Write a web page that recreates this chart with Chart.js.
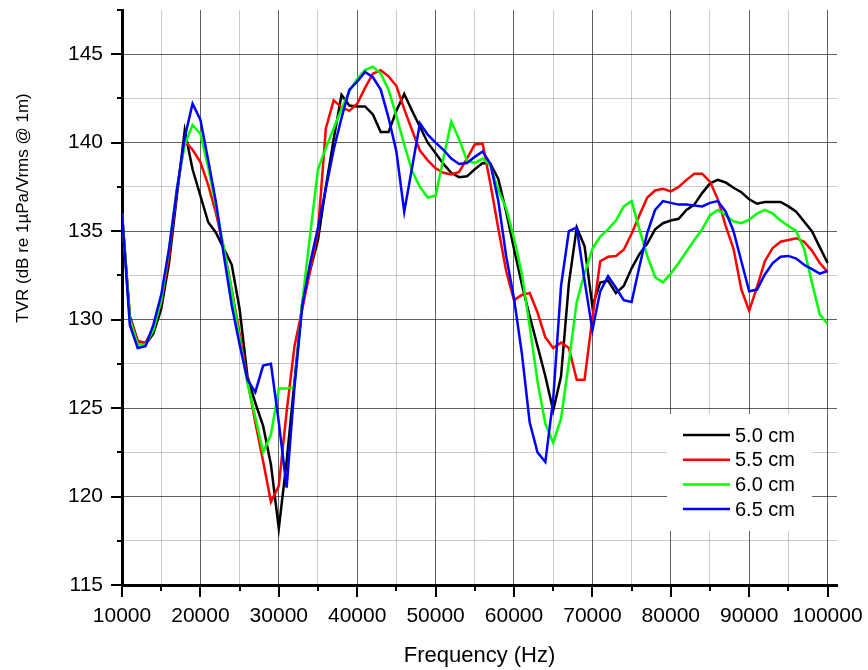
<!DOCTYPE html>
<html>
<head>
<meta charset="utf-8">
<script src="https://cdn.jsdelivr.net/npm/chart.js@4.4.0/dist/chart.umd.min.js"></script>
<style>
  html, body { margin: 0; padding: 0; background: #fff; }
</style>
</head>
<body>
<canvas id="tvr" width="868" height="670"></canvas>
<script>
// frequency points (Hz)
const freqHz = [
  10000, 11000, 12000, 13000, 14000, 15000, 16000, 17000, 18000, 19000,
  20000, 21000, 22000, 23000, 24000, 25000, 26000, 27000, 28000, 29000,
  30000, 31000, 32000, 33000, 34000, 35000, 36000, 37000, 38000, 39000,
  40000, 41000, 42000, 43000, 44000, 45000, 46000, 47000, 48000, 49000,
  50000, 51000, 52000, 53000, 54000, 55000, 56000, 57000, 58000, 59000,
  60000, 61000, 62000, 63000, 64000, 65000, 66000, 67000, 68000, 69000,
  70000, 71000, 72000, 73000, 74000, 75000, 76000, 77000, 78000, 79000,
  80000, 81000, 82000, 83000, 84000, 85000, 86000, 87000, 88000, 89000,
  90000, 91000, 92000, 93000, 94000, 95000, 96000, 97000, 98000, 99000,
  100000
];

// TVR (dB re 1uPa/Vrms @ 1m) for each spacing
const tvr50 = [
  136.0, 130.2, 128.8, 128.6, 129.2, 130.6, 133.2, 137.0, 140.7, 138.5,
  137.0, 135.5, 134.9, 134.0, 133.1, 130.6, 126.8, 125.3, 124.0, 121.8,
  118.2, 122.0, 126.5, 131.0, 132.8, 134.5, 137.5, 140.2, 142.7, 142.1,
  142.05, 142.05, 141.6, 140.6, 140.6, 141.8, 142.75, 141.8, 140.9, 140.0,
  139.4, 138.8, 138.3, 138.05, 138.1, 138.5, 138.85, 138.8, 137.95, 136.1,
  134.0, 132.0, 130.2, 128.5, 126.8, 124.85, 126.8, 132.05, 135.2, 134.15,
  130.75, 132.1, 132.2, 131.5, 131.9, 132.9, 133.7, 134.3, 135.1, 135.45,
  135.6, 135.7, 136.2, 136.5, 137.15, 137.7, 137.9, 137.75, 137.45, 137.2,
  136.8, 136.55, 136.65, 136.65, 136.65, 136.4, 136.1, 135.55, 135.0, 134.1,
  133.2
];
const tvr55 = [
  136.0, 130.1, 128.8, 128.7, 129.5, 131.0, 133.6, 137.3, 140.1, 139.6,
  138.9, 137.6, 136.0, 134.0, 131.7, 129.2, 126.6, 124.2, 122.0, 119.7,
  120.6, 124.8, 128.5, 130.6, 132.8, 135.0, 140.8, 142.4, 142.0, 141.8,
  142.2, 143.1, 143.9, 144.1, 143.75, 143.2, 141.9, 140.7, 139.55, 139.0,
  138.55, 138.3, 138.2, 138.35, 139.1, 139.9, 139.95, 137.65, 135.15, 132.75,
  131.1, 131.4, 131.5, 130.4, 129.0, 128.4, 128.7, 128.4, 126.6, 126.6,
  130.1, 133.3, 133.55, 133.6, 133.95, 134.85, 135.9, 136.9, 137.3, 137.4,
  137.25, 137.5, 137.9, 138.25, 138.25, 137.8, 136.8, 135.3, 134.0, 131.7,
  130.5, 131.85, 133.3, 134.05, 134.4, 134.5, 134.6, 134.4, 133.9, 133.2,
  132.7
];
const tvr60 = [
  136.0, 130.0, 128.6, 128.6, 129.4, 131.1, 134.0, 137.4, 139.9, 141.0,
  140.5, 138.6, 136.4, 134.0, 131.6, 128.9, 126.4, 124.5, 122.5, 123.5,
  126.1, 126.1, 126.2, 131.0, 134.8, 138.5, 139.7, 140.8, 141.9, 142.9,
  143.6, 144.1, 144.3, 143.9, 143.0, 141.5, 139.9, 138.4, 137.5, 136.9,
  137.0, 139.1, 141.2, 140.2, 139.0, 138.85, 139.1, 138.7, 137.3, 136.3,
  134.6, 132.6, 129.6, 126.5, 124.1, 123.05, 124.4, 127.6, 131.0, 132.6,
  134.0, 134.7, 135.1, 135.6, 136.4, 136.7, 135.1, 133.6, 132.4, 132.1,
  132.6, 133.2, 133.85, 134.5, 135.1, 135.9, 136.2, 135.9, 135.55, 135.45,
  135.65, 136.0, 136.2, 136.0, 135.6, 135.3, 135.0, 134.0, 132.1, 130.3,
  129.75
];
const tvr65 = [
  136.0, 129.7, 128.4, 128.5, 129.7, 131.4, 134.0, 137.3, 140.3, 142.2,
  141.3, 139.0, 136.6, 133.6, 130.8, 128.6, 126.6, 125.9, 127.4, 127.5,
  124.2, 120.5, 126.2, 130.8, 133.2, 135.2, 137.4, 139.6, 141.4, 143.0,
  143.45, 144.0, 143.7, 143.0, 141.4, 139.5, 136.1, 138.6, 141.1, 140.45,
  140.0, 139.6, 139.1, 138.8, 138.85, 139.2, 139.5, 138.8, 136.7, 133.6,
  131.2, 128.1, 124.2, 122.5, 121.95, 125.5, 131.9, 135.0, 135.2, 132.2,
  129.4, 131.6, 132.45, 131.8, 131.1, 131.0, 133.0, 134.9, 136.2, 136.7,
  136.6, 136.5, 136.5, 136.45, 136.4, 136.6, 136.7, 136.1, 135.0, 133.3,
  131.6, 131.7, 132.55, 133.2, 133.55, 133.6, 133.45, 133.1, 132.85, 132.6,
  132.75
];

const seriesLabels = ['5.0 cm', '5.5 cm', '6.0 cm', '6.5 cm'];
const seriesColors = ['#000000', '#ff0000', '#00ff00', '#0000ff'];
const seriesValues = [tvr50, tvr55, tvr60, tvr65];

// axis ticks: every 5 kHz / 2.5 dB, labels on every other one
const xTicks = [
  10000, 15000, 20000, 25000, 30000, 35000, 40000, 45000, 50000, 55000,
  60000, 65000, 70000, 75000, 80000, 85000, 90000, 95000, 100000
];
const yTicks = [
  115, 117.5, 120, 122.5, 125, 127.5, 130, 132.5, 135, 137.5,
  140, 142.5, 145, 147.5
];

const xTitle = 'Frequency (Hz)';
const yTitle = 'TVR (dB re 1\u00b5Pa/Vrms @ 1m)';

const FONT = '"Liberation Sans", Arial, Helvetica, sans-serif';
Chart.defaults.font.family = FONT;
Chart.defaults.color = '#000';

const isMajorX = v => v % 10000 === 0;
const isMajorY = v => v % 5 === 0;
const MAJOR_GRID = 'rgba(0,0,0,0.62)';
const MINOR_GRID = 'rgba(0,0,0,0.2)';

// outward tick marks, long on the labelled values, short in between
const axisTicks = {
  id: 'axisTicks',
  afterDraw(chart) {
    const { ctx, chartArea, scales: { x, y } } = chart;
    ctx.save();
    ctx.strokeStyle = '#000';
    ctx.lineWidth = 2;
    ctx.beginPath();
    x.ticks.forEach(t => {
      const px = Math.round(x.getPixelForValue(t.value));
      const len = isMajorX(t.value) ? 12 : 6;
      ctx.moveTo(px, chartArea.bottom);
      ctx.lineTo(px, chartArea.bottom + len);
    });
    y.ticks.forEach(t => {
      const py = Math.round(y.getPixelForValue(t.value));
      const len = isMajorY(t.value) ? 11 : 5;
      ctx.moveTo(chartArea.left, py);
      ctx.lineTo(chartArea.left - len, py);
    });
    ctx.stroke();
    ctx.restore();
  }
};

// rotated y title, drawn by hand so it can sit above the axis middle
const sideTitle = {
  id: 'sideTitle',
  afterDraw(chart) {
    const ctx = chart.ctx;
    ctx.save();
    ctx.translate(23, 208);
    ctx.rotate(-Math.PI / 2);
    ctx.font = '17px ' + FONT;
    ctx.fillStyle = '#000';
    ctx.textAlign = 'center';
    ctx.textBaseline = 'middle';
    ctx.fillText(yTitle, 0, 0);
    ctx.restore();
  }
};

// legend box inside the plot, lower right
const boxLegend = {
  id: 'boxLegend',
  afterDraw(chart) {
    const ctx = chart.ctx;
    ctx.save();
    ctx.fillStyle = '#fff';
    ctx.fillRect(667, 414, 145, 117);
    ctx.font = '20px ' + FONT;
    ctx.textBaseline = 'middle';
    ctx.textAlign = 'left';
    chart.data.datasets.forEach((ds, i) => {
      const yy = 435 + i * 24.7;
      ctx.strokeStyle = ds.borderColor;
      ctx.lineWidth = 2.5;
      ctx.beginPath();
      ctx.moveTo(683, yy);
      ctx.lineTo(730, yy);
      ctx.stroke();
      ctx.fillStyle = '#000';
      ctx.fillText(ds.label, 735, yy + 1);
    });
    ctx.restore();
  }
};

const datasets = seriesValues.map((vals, i) => ({
  label: seriesLabels[i],
  data: freqHz.map((f, j) => ({ x: f, y: vals[j] })),
  borderColor: seriesColors[i],
  backgroundColor: seriesColors[i],
  borderWidth: 2.5,
  pointRadius: 0,
  tension: 0,
  fill: false,
  order: seriesValues.length - i
}));

new Chart(document.getElementById('tvr'), {
  type: 'line',
  data: { datasets },
  options: {
    responsive: false,
    animation: false,
    devicePixelRatio: 1,
    layout: { padding: { left: 0, top: 10, right: 31, bottom: 0 } },
    plugins: {
      legend: { display: false },
      tooltip: { enabled: false }
    },
    scales: {
      x: {
        type: 'linear',
        min: 10000,
        max: 101200,
        afterBuildTicks(scale) {
          scale.ticks = xTicks.map(v => ({ value: v }));
        },
        afterFit(scale) {
          scale.height = 85;
          scale.paddingLeft = 0;
          scale.paddingRight = 0;
        },
        border: { display: true, color: '#000', width: 3 },
        grid: {
          drawTicks: false,
          color: c => isMajorX(c.tick.value) ? MAJOR_GRID : MINOR_GRID,
          lineWidth: 1
        },
        ticks: {
          autoSkip: false,
          maxRotation: 0,
          minRotation: 0,
          padding: 19,
          font: { size: 21 },
          callback: v => isMajorX(v) ? String(v) : ''
        },
        title: {
          display: true,
          text: xTitle,
          font: { size: 22 },
          padding: { top: 0, bottom: 1 }
        }
      },
      y: {
        min: 115,
        max: 147.5,
        afterBuildTicks(scale) {
          scale.ticks = yTicks.map(v => ({ value: v }));
        },
        afterFit(scale) {
          scale.width = 122;
          scale.paddingTop = 0;
          scale.paddingBottom = 0;
        },
        border: { display: true, color: '#000', width: 3 },
        grid: {
          drawTicks: false,
          color: c => {
            const v = c.tick.value;
            if (v === 147.5) return 'rgba(0,0,0,0)';
            return isMajorY(v) ? MAJOR_GRID : MINOR_GRID;
          },
          lineWidth: 1
        },
        ticks: {
          autoSkip: false,
          padding: 19,
          font: { size: 21 },
          callback: v => isMajorY(v) ? String(v) : ''
        }
      }
    }
  },
  plugins: [axisTicks, sideTitle, boxLegend]
});
</script>
</body>
</html>
